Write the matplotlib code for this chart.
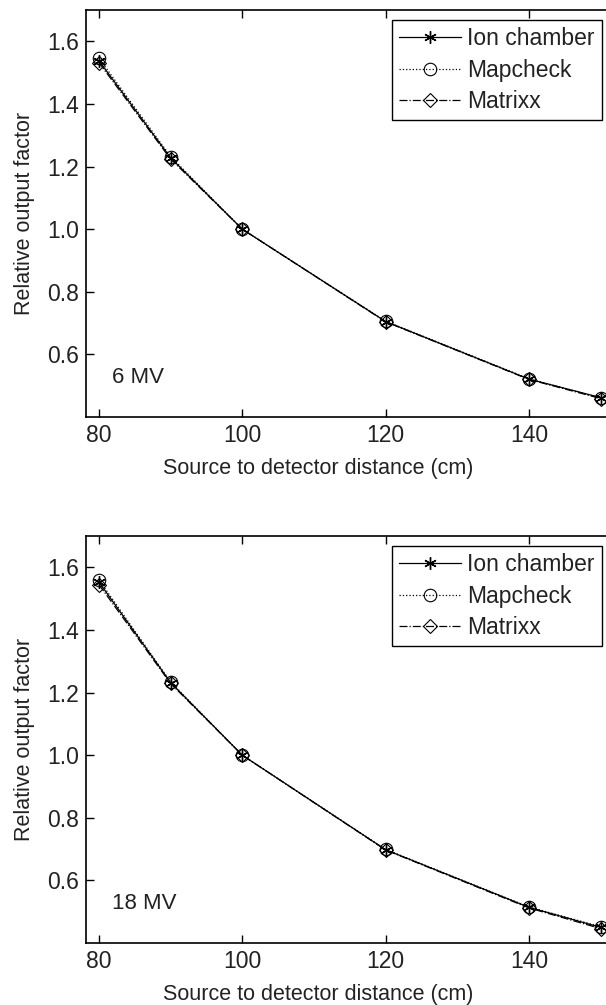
import matplotlib
matplotlib.use("Agg")
import matplotlib.pyplot as plt

plt.rcParams['font.family'] = ['Liberation Sans', 'DejaVu Sans']

distance = [80, 90, 100, 120, 140, 150]

ion_6mv = [1.538, 1.228, 1.000, 0.705, 0.521, 0.462]
mapcheck_6mv = [1.546, 1.232, 1.000, 0.706, 0.522, 0.461]
matrixx_6mv = [1.532, 1.224, 1.000, 0.704, 0.520, 0.459]

ion_18mv = [1.553, 1.232, 1.000, 0.698, 0.514, 0.450]
mapcheck_18mv = [1.560, 1.234, 1.000, 0.699, 0.515, 0.452]
matrixx_18mv = [1.545, 1.229, 1.000, 0.697, 0.512, 0.446]

xticks = [80, 100, 120, 140]
yticks = [0.6, 0.8, 1.0, 1.2, 1.4, 1.6]
series_names = ["Ion chamber", "Mapcheck", "Matrixx"]
panel_labels = ["6 MV", "18 MV"]

W, H = 606, 1005
fig = plt.figure(figsize=(W / 100, H / 100), dpi=100)

FS = 15.5
TFS = 16.5
TXT = '#222222'

def make_panel(rect, ion, mapc, mtx, label):
    ax = fig.add_axes(rect)
    ax.plot(distance, ion, color='k', lw=0.9, ls='-', marker=(6, 2, 0),
            ms=9, mew=1.0, label=series_names[0])
    ax.plot(distance, mapc, color='k', lw=0.9, ls=':', marker='o',
            ms=9, mfc='none', mew=0.8, label=series_names[1])
    ax.plot(distance, mtx, color='k', lw=0.9, ls='-.', marker='D',
            ms=7, mfc='none', mew=0.8, label=series_names[2])
    ax.set_xlim(78.2, 152)
    ax.set_ylim(0.4, 1.7)
    ax.set_xticks(xticks)
    ax.set_yticks(yticks)
    ax.set_yticklabels([f"{v:.1f}" for v in yticks])
    ax.tick_params(direction='in', length=6, width=1, labelsize=TFS,
                   labelcolor=TXT, top=True, right=True, pad=5)
    for s in ax.spines.values():
        s.set_linewidth(1.2)
    ax.set_xlabel("Source to detector distance (cm)", fontsize=FS, color=TXT)
    ax.xaxis.set_label_coords((318 - 86) / 529, -0.10)
    ax.set_ylabel("Relative output factor", fontsize=FS, color=TXT)
    ax.yaxis.set_label_coords(-0.097, 0.5)
    ax.text(81.8, 0.527, label, fontsize=FS + 0.5, va='center', ha='left', color=TXT)
    leg = ax.legend(loc='upper left', bbox_to_anchor=(0.578, 0.975),
                    fontsize=FS + 1, frameon=True, fancybox=False, framealpha=1,
                    edgecolor='k', handlelength=2.7, handletextpad=0.3,
                    borderpad=0.3, labelspacing=0.38, borderaxespad=0)
    for t in leg.get_texts():
        t.set_color(TXT)
    leg.get_frame().set_linewidth(1.0)
    return ax

ax_w = (615 - 86) / W
ax_h = 407 / H
make_panel([86 / W, (H - 417) / H, ax_w, ax_h], ion_6mv, mapcheck_6mv, matrixx_6mv, panel_labels[0])
make_panel([86 / W, (H - 943) / H, ax_w, ax_h], ion_18mv, mapcheck_18mv, matrixx_18mv, panel_labels[1])

fig.savefig("out.png", dpi=100)
